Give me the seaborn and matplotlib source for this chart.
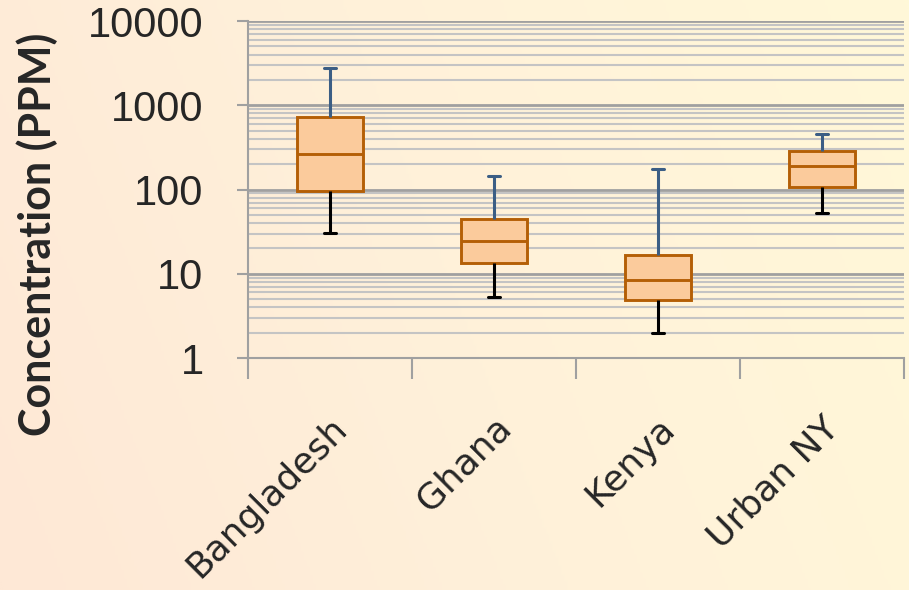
import numpy as np
import pandas as pd
import seaborn as sns
import matplotlib.pyplot as plt
from matplotlib.ticker import LogLocator, FixedLocator, NullFormatter
from matplotlib.colors import LinearSegmentedColormap

# five-number summaries (min, q1, median, q3, max)
countries = ['Bangladesh', 'Ghana', 'Kenya', 'Urban NY']
whisker_low = [30.5, 5.3, 1.98, 52.6]
box_low = [96, 13.4, 4.9, 107]
medians = [264, 24.5, 8.4, 190]
box_high = [726, 44.7, 16.7, 286]
whisker_high = [2770, 145, 175, 456]
yticks = [1, 10, 100, 1000, 10000]

# 5 values per group -> quartiles land exactly on the summary values
rows = []
for i, c in enumerate(countries):
    for v in [whisker_low[i], box_low[i], medians[i], box_high[i], whisker_high[i]]:
        rows.append({'country': c, 'ppm': v})
df = pd.DataFrame(rows)

sns.set_style("white")
plt.rcParams['font.family'] = ['Liberation Sans', 'DejaVu Sans']

fig = plt.figure(figsize=(9.09, 5.9), dpi=100)

# background gradient peach -> light yellow
bg = fig.add_axes([0, 0, 1, 1], zorder=-10)
cmap = LinearSegmentedColormap.from_list('bg', ['#fee8d6', '#fff1da', '#fff8d8'])
xx, yy = np.meshgrid(np.linspace(0, 1, 300), np.linspace(0, 1, 200))
bg.imshow(0.8 * xx + 0.2 * yy, cmap=cmap, aspect='auto', origin='lower', extent=[0, 1, 0, 1])
bg.axis('off')

ax = fig.add_axes([0.2728, 0.3932, 0.7217, 0.5712])
ax.set_facecolor('none')
ax.set_yscale('log')

sns.boxplot(data=df, x='country', y='ppm', ax=ax, whis=(0, 100), width=0.4,
            color='#fbcb9c', saturation=1, linecolor='#b45f06', linewidth=2.1,
            showfliers=False,
            whiskerprops={'linewidth': 2.2}, capprops={'linewidth': 2.2})

# upper whisker/cap blue, lower black
for line in ax.lines:
    xd = np.asarray(line.get_xdata(), dtype=float)
    yd = np.asarray(line.get_ydata(), dtype=float)
    if len(xd) != 2:
        continue
    idx = int(round(xd.mean()))
    if idx < 0 or idx >= len(countries):
        continue
    ym = np.exp(np.log(yd).mean())
    if ym > medians[idx] * 1.001 and ym >= box_high[idx]:
        line.set_color('#3b5e85')
    elif ym < medians[idx] * 0.999 and ym <= box_low[idx]:
        line.set_color('black')
    if xd[0] != xd[1] and abs(yd[0] - medians[idx]) > 1e-6:
        # caps narrower
        line.set_xdata([idx - 0.036, idx + 0.036])

ax.set_ylim(1, 10000)
ax.set_xlim(-0.5, 3.5)
ax.yaxis.set_major_locator(FixedLocator(yticks))
ax.set_yticklabels([str(t) for t in yticks], fontsize=30)
ax.yaxis.set_minor_locator(LogLocator(base=10, subs=np.arange(2, 10)))
ax.yaxis.set_minor_formatter(NullFormatter())
ax.grid(True, which='major', axis='y', color='#a0a0a0', linewidth=2)
ax.grid(True, which='minor', axis='y', color='#c4c4c4', linewidth=1.5)
ax.set_axisbelow(True)

ax.tick_params(axis='y', which='major', left=True, length=8, width=1.5, color='#a0a0a0', pad=24)
ax.tick_params(axis='y', which='minor', left=False)

ax.set_xticks(range(len(countries)))
ax.set_xticklabels(countries, fontsize=26, rotation=45, ha='right', rotation_mode='anchor',
                   family=['DejaVu Sans'])
ax.tick_params(axis='x', which='major', length=0, pad=38)
ax.set_xticks([-0.5, 0.5, 1.5, 2.5, 3.5], minor=True)
ax.tick_params(axis='x', which='minor', bottom=True, length=15, width=1.5, color='#a0a0a0')

for s in ['top', 'right']:
    ax.spines[s].set_visible(False)
for s in ['left', 'bottom']:
    ax.spines[s].set_color('#a0a0a0')
    ax.spines[s].set_linewidth(1.5)

ax.set_xlabel('')
ax.set_ylabel('Concentration (PPM)', fontsize=31, fontweight='bold',
              family=['Lato', 'DejaVu Sans'])
ax.yaxis.set_label_coords(-0.29, 0.368)

fig.savefig('out.png', dpi=100)
